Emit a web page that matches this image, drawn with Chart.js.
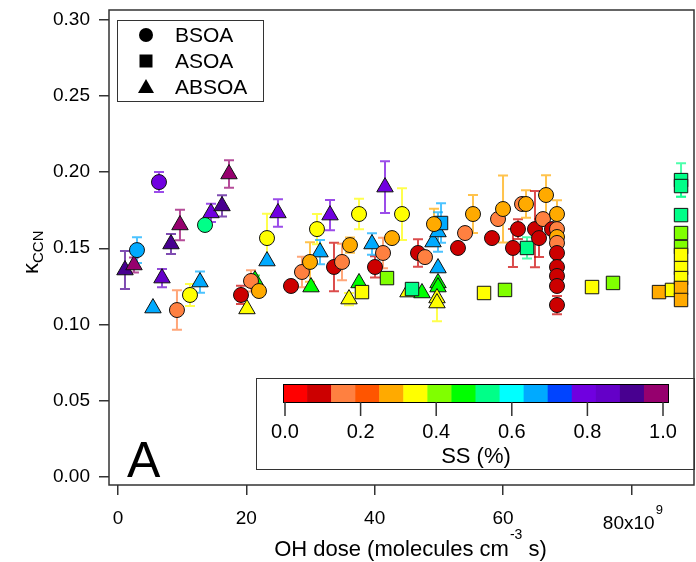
<!DOCTYPE html>
<html>
<head>
<meta charset="utf-8">
<script src="https://cdn.jsdelivr.net/npm/chart.js@4.4.1/dist/chart.umd.min.js"></script>
<style>
  html, body { margin: 0; padding: 0; background: #fff; }
  #wrap { width: 696px; height: 562px; }
</style>
</head>
<body>
<div id="wrap"><canvas id="kappaChart" width="696" height="562"></canvas></div>
<script>
// colour scale for SS (%), 16 bins between 0 and 1
const ssColors = [
    '#ff0000', '#cc0000', '#ff8040', '#ff5500', '#ffaa00', '#ffff00', '#80ff00', '#00ff00',
    '#00ff88', '#00ffff', '#00aaff', '#0044ff', '#7000e0', '#6400c8', '#480090', '#96006e'
];
const ssTicks = [0.0, 0.2, 0.4, 0.6, 0.8, 1.0];
const xTicks = [0, 20, 40, 60, 80];
const yTicks = [0.00, 0.05, 0.10, 0.15, 0.20, 0.25, 0.30];

// BSOA (circles)
const bsoaX = [2.96, 6.39, 9.19, 11.22, 13.56, 19.17, 20.73, 21.97, 23.22, 26.96, 28.67, 29.92,
    31.01, 33.66, 34.91, 36.15, 37.56, 40.05, 41.30, 42.70, 44.26, 46.75, 47.84, 49.24,
    52.98, 54.08, 55.32, 58.28, 59.22, 60.00, 61.55, 62.33, 62.96, 63.58, 64.98, 65.61,
    66.23, 66.70, 67.63, 68.41, 68.41, 68.41, 68.41, 68.41, 68.41, 68.41, 68.41, 68.41];
const bsoaY = [0.1488, 0.1935, 0.1094, 0.1193, 0.1653, 0.1193, 0.1285, 0.1219, 0.1567, 0.1252, 0.1344, 0.1410,
    0.1626, 0.1377, 0.1410, 0.1521, 0.1725, 0.1377, 0.1469, 0.1567, 0.1725, 0.1469, 0.1442, 0.1659,
    0.1502, 0.1600, 0.1725, 0.1567, 0.1692, 0.1758, 0.1502, 0.1626, 0.1791, 0.1791, 0.1626, 0.1567,
    0.1692, 0.1850, 0.1626, 0.1725, 0.1626, 0.1574, 0.1535, 0.1469, 0.1377, 0.1318, 0.1252, 0.1127];
const bsoaSS = [0.65, 0.8, 0.15, 0.35, 0.55, 0.1, 0.15, 0.3, 0.35, 0.1, 0.15, 0.3,
    0.35, 0.1, 0.15, 0.3, 0.35, 0.1, 0.15, 0.3, 0.35, 0.1, 0.15, 0.3,
    0.1, 0.15, 0.3, 0.1, 0.15, 0.3, 0.1, 0.1, 0.15, 0.3, 0.1, 0.1,
    0.15, 0.3, 0.1, 0.3, 0.15, 0.3, 0.15, 0.1, 0.1, 0.1, 0.1, 0.1];
const bsoaErr = [0.0085, 0.0066, 0.013, 0.0072, 0, 0.006, 0.007, 0, 0.016, 0, 0.010, 0.013,
    0.010, 0.016, 0.012, 0.005, 0.010, 0.007, 0.010, 0, 0.017, 0.009, 0, 0.010,
    0, 0, 0.0125, 0, 0, 0.022, 0.0125, 0.0065, 0, 0.009, 0.025, 0.0125,
    0, 0.013, 0, 0.009, 0, 0, 0, 0, 0, 0, 0, 0.006];

// ASOA (squares)
const asoaX = [38.02, 41.92, 45.82, 50.34, 57.04, 60.31, 63.74, 73.87, 77.14, 84.31, 86.33,
    87.74, 87.74, 87.74, 87.74, 87.74, 87.74, 87.74, 87.74, 87.74, 87.74];
const asoaY = [0.1212, 0.1304, 0.1232, 0.1666, 0.1206, 0.1226, 0.1502, 0.1245, 0.1272, 0.1212, 0.1226,
    0.1948, 0.1909, 0.1718, 0.1600, 0.1508, 0.1456, 0.1370, 0.1304, 0.1239, 0.1160];
const asoaSS = [0.35, 0.4, 0.55, 0.65, 0.35, 0.4, 0.55, 0.35, 0.4, 0.3, 0.35,
    0.55, 0.55, 0.55, 0.4, 0.4, 0.35, 0.35, 0.35, 0.3, 0.3];
const asoaErr = [0, 0, 0.003, 0.013, 0, 0, 0.007, 0, 0, 0, 0,
    0.011, 0.007, 0, 0, 0, 0, 0, 0, 0, 0];

// ABSOA (triangles)
const absoaX = [1.09, 2.49, 5.45, 6.86, 8.26, 9.66, 12.78, 14.49, 16.21, 17.30, 20.10, 21.35,
    23.22, 24.93, 30.08, 31.48, 33.04, 36.00, 37.56, 39.58, 41.61, 45.19, 47.37, 49.09,
    49.87, 49.87, 49.87, 49.87, 49.71, 49.71];
const absoaY = [0.1357, 0.1390, 0.1107, 0.1304, 0.1528, 0.1653, 0.1278, 0.1732, 0.1778, 0.1988, 0.1101, 0.1291,
    0.1416, 0.1732, 0.1245, 0.1475, 0.1718, 0.1166, 0.1272, 0.1528, 0.1902, 0.1212, 0.1206, 0.1541,
    0.1607, 0.1370, 0.1272, 0.1245, 0.1173, 0.1140];
const absoaSS = [0.9, 1.0, 0.65, 0.85, 0.9, 1.0, 0.65, 0.8, 0.9, 1.0, 0.35, 0.45,
    0.65, 0.8, 0.45, 0.65, 0.8, 0.35, 0.45, 0.65, 0.8, 0.35, 0.45, 0.65,
    0.65, 0.65, 0.45, 0.45, 0.35, 0.35];
const absoaErr = [0.0125, 0.005, 0, 0.006, 0.0065, 0.010, 0.007, 0.006, 0.007, 0.009, 0, 0.003,
    0, 0.009, 0, 0.008, 0.010, 0.004, 0, 0.007, 0.017, 0, 0, 0,
    0.013, 0, 0, 0, 0, 0.012];

const FONT = "'Liberation Sans', Arial, Helvetica, sans-serif";
const FRAME = '#333333';

function ssColor(ss) {
    return ssColors[Math.max(0, Math.min(15, Math.floor(ss * 16)))];
}

function withAlpha(hex, a) {
    const n = parseInt(hex.slice(1), 16);
    return 'rgba(' + (n >> 16) + ',' + ((n >> 8) & 255) + ',' + (n & 255) + ',' + a + ')';
}

function makeSet(label, xs, ys, ss, errs, style, radius) {
    return {
        label: label,
        data: xs.map((x, i) => ({ x: x, y: ys[i] })),
        errors: errs,
        backgroundColor: ss.map(ssColor),
        errColors: ss.map(v => withAlpha(ssColor(v), 0.7)),
        borderColor: '#111',
        borderWidth: 1,
        pointStyle: style,
        pointRadius: radius,
        pointHoverRadius: radius
    };
}

// error bars drawn under the markers
const errorBars = {
    id: 'errorBars',
    beforeDatasetsDraw(chart) {
        const ctx = chart.ctx;
        const xs = chart.scales.x, ys = chart.scales.y;
        ctx.save();
        ctx.lineWidth = 2;
        chart.data.datasets.forEach(ds => {
            ds.data.forEach((p, i) => {
                const e = ds.errors[i];
                if (!e) return;
                const px = xs.getPixelForValue(p.x);
                const top = ys.getPixelForValue(p.y + e);
                const bot = ys.getPixelForValue(p.y - e);
                ctx.strokeStyle = ds.errColors[i];
                ctx.beginPath();
                ctx.moveTo(px, top); ctx.lineTo(px, bot);
                ctx.moveTo(px - 5, top); ctx.lineTo(px + 5, top);
                ctx.moveTo(px - 5, bot); ctx.lineTo(px + 5, bot);
                ctx.stroke();
            });
        });
        ctx.restore();
    }
};

function drawMarker(ctx, style, x, y) {
    ctx.beginPath();
    if (style === 'circle') {
        ctx.arc(x, y, 7, 0, Math.PI * 2);
    } else if (style === 'rect') {
        ctx.rect(x - 6.5, y - 6.5, 13, 13);
    } else {
        ctx.moveTo(x, y - 8); ctx.lineTo(x + 8, y + 6); ctx.lineTo(x - 8, y + 6); ctx.closePath();
    }
    ctx.fill();
}

// frame, legend, colour bar, axis titles, panel letter
const decorations = {
    id: 'decorations',
    afterDraw(chart) {
        const ctx = chart.ctx;
        const a = chart.chartArea;
        const xs = chart.scales.x;
        ctx.save();

        ctx.strokeStyle = FRAME;
        ctx.lineWidth = 1.5;
        ctx.strokeRect(a.left, a.top, a.right - a.left, a.bottom - a.top);

        // legend
        ctx.lineWidth = 1;
        ctx.strokeStyle = FRAME;
        ctx.strokeRect(117.5, 20.5, 146, 81);
        const legendItems = [['circle', 'BSOA'], ['rect', 'ASOA'], ['triangle', 'ABSOA']];
        ctx.font = '21px ' + FONT;
        ctx.textBaseline = 'middle';
        ctx.textAlign = 'left';
        legendItems.forEach((it, i) => {
            const yy = 35 + i * 26;
            ctx.fillStyle = '#000';
            drawMarker(ctx, it[0], 146, yy);
            ctx.fillText(it[1], 175, yy + 1);
        });

        // colour bar
        ctx.strokeStyle = FRAME;
        ctx.strokeRect(256.5, 378.5, 438, 91);
        const barL = 283, barR = 668, barT = 384, barB = 402;
        const bw = (barR - barL) / ssColors.length;
        ssColors.forEach((c, i) => {
            ctx.fillStyle = c;
            ctx.fillRect(barL + i * bw, barT, bw + 0.5, barB - barT);
        });
        ctx.strokeStyle = '#000';
        ctx.strokeRect(barL + 0.5, barT + 0.5, barR - barL, barB - barT);
        ctx.strokeStyle = FRAME;
        ctx.lineWidth = 1.5;
        ctx.fillStyle = '#000';
        ctx.textAlign = 'center';
        ctx.font = '20px ' + FONT;
        ssTicks.forEach(t => {
            const px = 285 + t * 378;
            ctx.beginPath();
            ctx.moveTo(px, barB); ctx.lineTo(px, barB + 14);
            ctx.stroke();
            ctx.fillText(t.toFixed(1), px, 432);
        });
        ctx.font = '22px ' + FONT;
        ctx.fillText('SS (%)', 476, 457);

        // last x tick label with exponent
        const p80 = xs.getPixelForValue(80);
        ctx.font = '19px ' + FONT;
        const w1 = ctx.measureText('80x10').width;
        ctx.font = '13px ' + FONT;
        const w2 = ctx.measureText('9').width;
        let sx = p80 - (w1 + w2) / 2 + 1;
        ctx.textAlign = 'left';
        ctx.textBaseline = 'alphabetic';
        ctx.font = '19px ' + FONT;
        ctx.fillText('80x10', sx, 529);
        ctx.font = '13px ' + FONT;
        ctx.fillText('9', sx + w1 + 1, 514);

        // x title
        const parts = ['OH dose (molecules cm', '-3', ' s)'];
        ctx.font = '22px ' + FONT;
        const t1 = ctx.measureText(parts[0]).width;
        const t3 = ctx.measureText(parts[2]).width;
        ctx.font = '14px ' + FONT;
        const t2 = ctx.measureText(parts[1]).width;
        sx = 410 - (t1 + t2 + t3) / 2;
        ctx.font = '22px ' + FONT;
        ctx.fillText(parts[0], sx, 556);
        ctx.font = '14px ' + FONT;
        ctx.fillText(parts[1], sx + t1 + 1, 539);
        ctx.font = '22px ' + FONT;
        ctx.fillText(parts[2], sx + t1 + t2 + 1, 556);

        // y title
        ctx.save();
        ctx.translate(38, 274);
        ctx.rotate(-Math.PI / 2);
        ctx.font = '22px ' + FONT;
        ctx.fillText('κ', 0, 0);
        const kw = ctx.measureText('κ').width;
        ctx.font = '15px ' + FONT;
        ctx.fillText('CCN', kw, 5);
        ctx.restore();

        // panel letter
        ctx.font = '50px ' + FONT;
        ctx.fillText('A', 127, 477);

        ctx.restore();
    }
};

function noPad(s) {
    s.paddingTop = 0; s.paddingBottom = 0; s.paddingLeft = 0; s.paddingRight = 0;
}

const ctx = document.getElementById('kappaChart').getContext('2d');
const kappaChart = new Chart(ctx, {
    type: 'scatter',
    data: {
        datasets: [
            makeSet('BSOA', bsoaX, bsoaY, bsoaSS, bsoaErr, 'circle', 7.5),
            makeSet('ASOA', asoaX, asoaY, asoaSS, asoaErr, 'rect', 9.5),
            makeSet('ABSOA', absoaX, absoaY, absoaSS, absoaErr, 'triangle', 9.5)
        ]
    },
    options: {
        responsive: false,
        animation: false,
        layout: { autoPadding: false, padding: { top: 10, right: 2, left: 0, bottom: 0 } },
        plugins: {
            legend: { display: false },
            tooltip: { enabled: false }
        },
        scales: {
            x: {
                type: 'linear',
                min: -1.4,
                max: 89.76,
                afterBuildTicks: s => { s.ticks = xTicks.map(v => ({ value: v })); },
                afterFit: s => { s.height = 77; noPad(s); },
                ticks: {
                    color: '#000',
                    font: { family: FONT, size: 19 },
                    padding: 12,
                    maxRotation: 0,
                    autoSkip: false,
                    callback: v => (v === 80 ? '' : String(v))
                },
                grid: { drawOnChartArea: false, tickLength: 10, color: FRAME, lineWidth: 1.5 },
                border: { display: false }
            },
            y: {
                type: 'linear',
                min: -0.0056,
                max: 0.3066,
                afterBuildTicks: s => { s.ticks = yTicks.map(v => ({ value: v })); },
                afterFit: s => { s.width = 109; noPad(s); },
                ticks: {
                    color: '#000',
                    font: { family: FONT, size: 19 },
                    padding: 9,
                    autoSkip: false,
                    callback: v => v.toFixed(2)
                },
                grid: { drawOnChartArea: false, tickLength: 10, color: FRAME, lineWidth: 1.5 },
                border: { display: false }
            }
        }
    },
    plugins: [errorBars, decorations]
});
</script>
</body>
</html>
